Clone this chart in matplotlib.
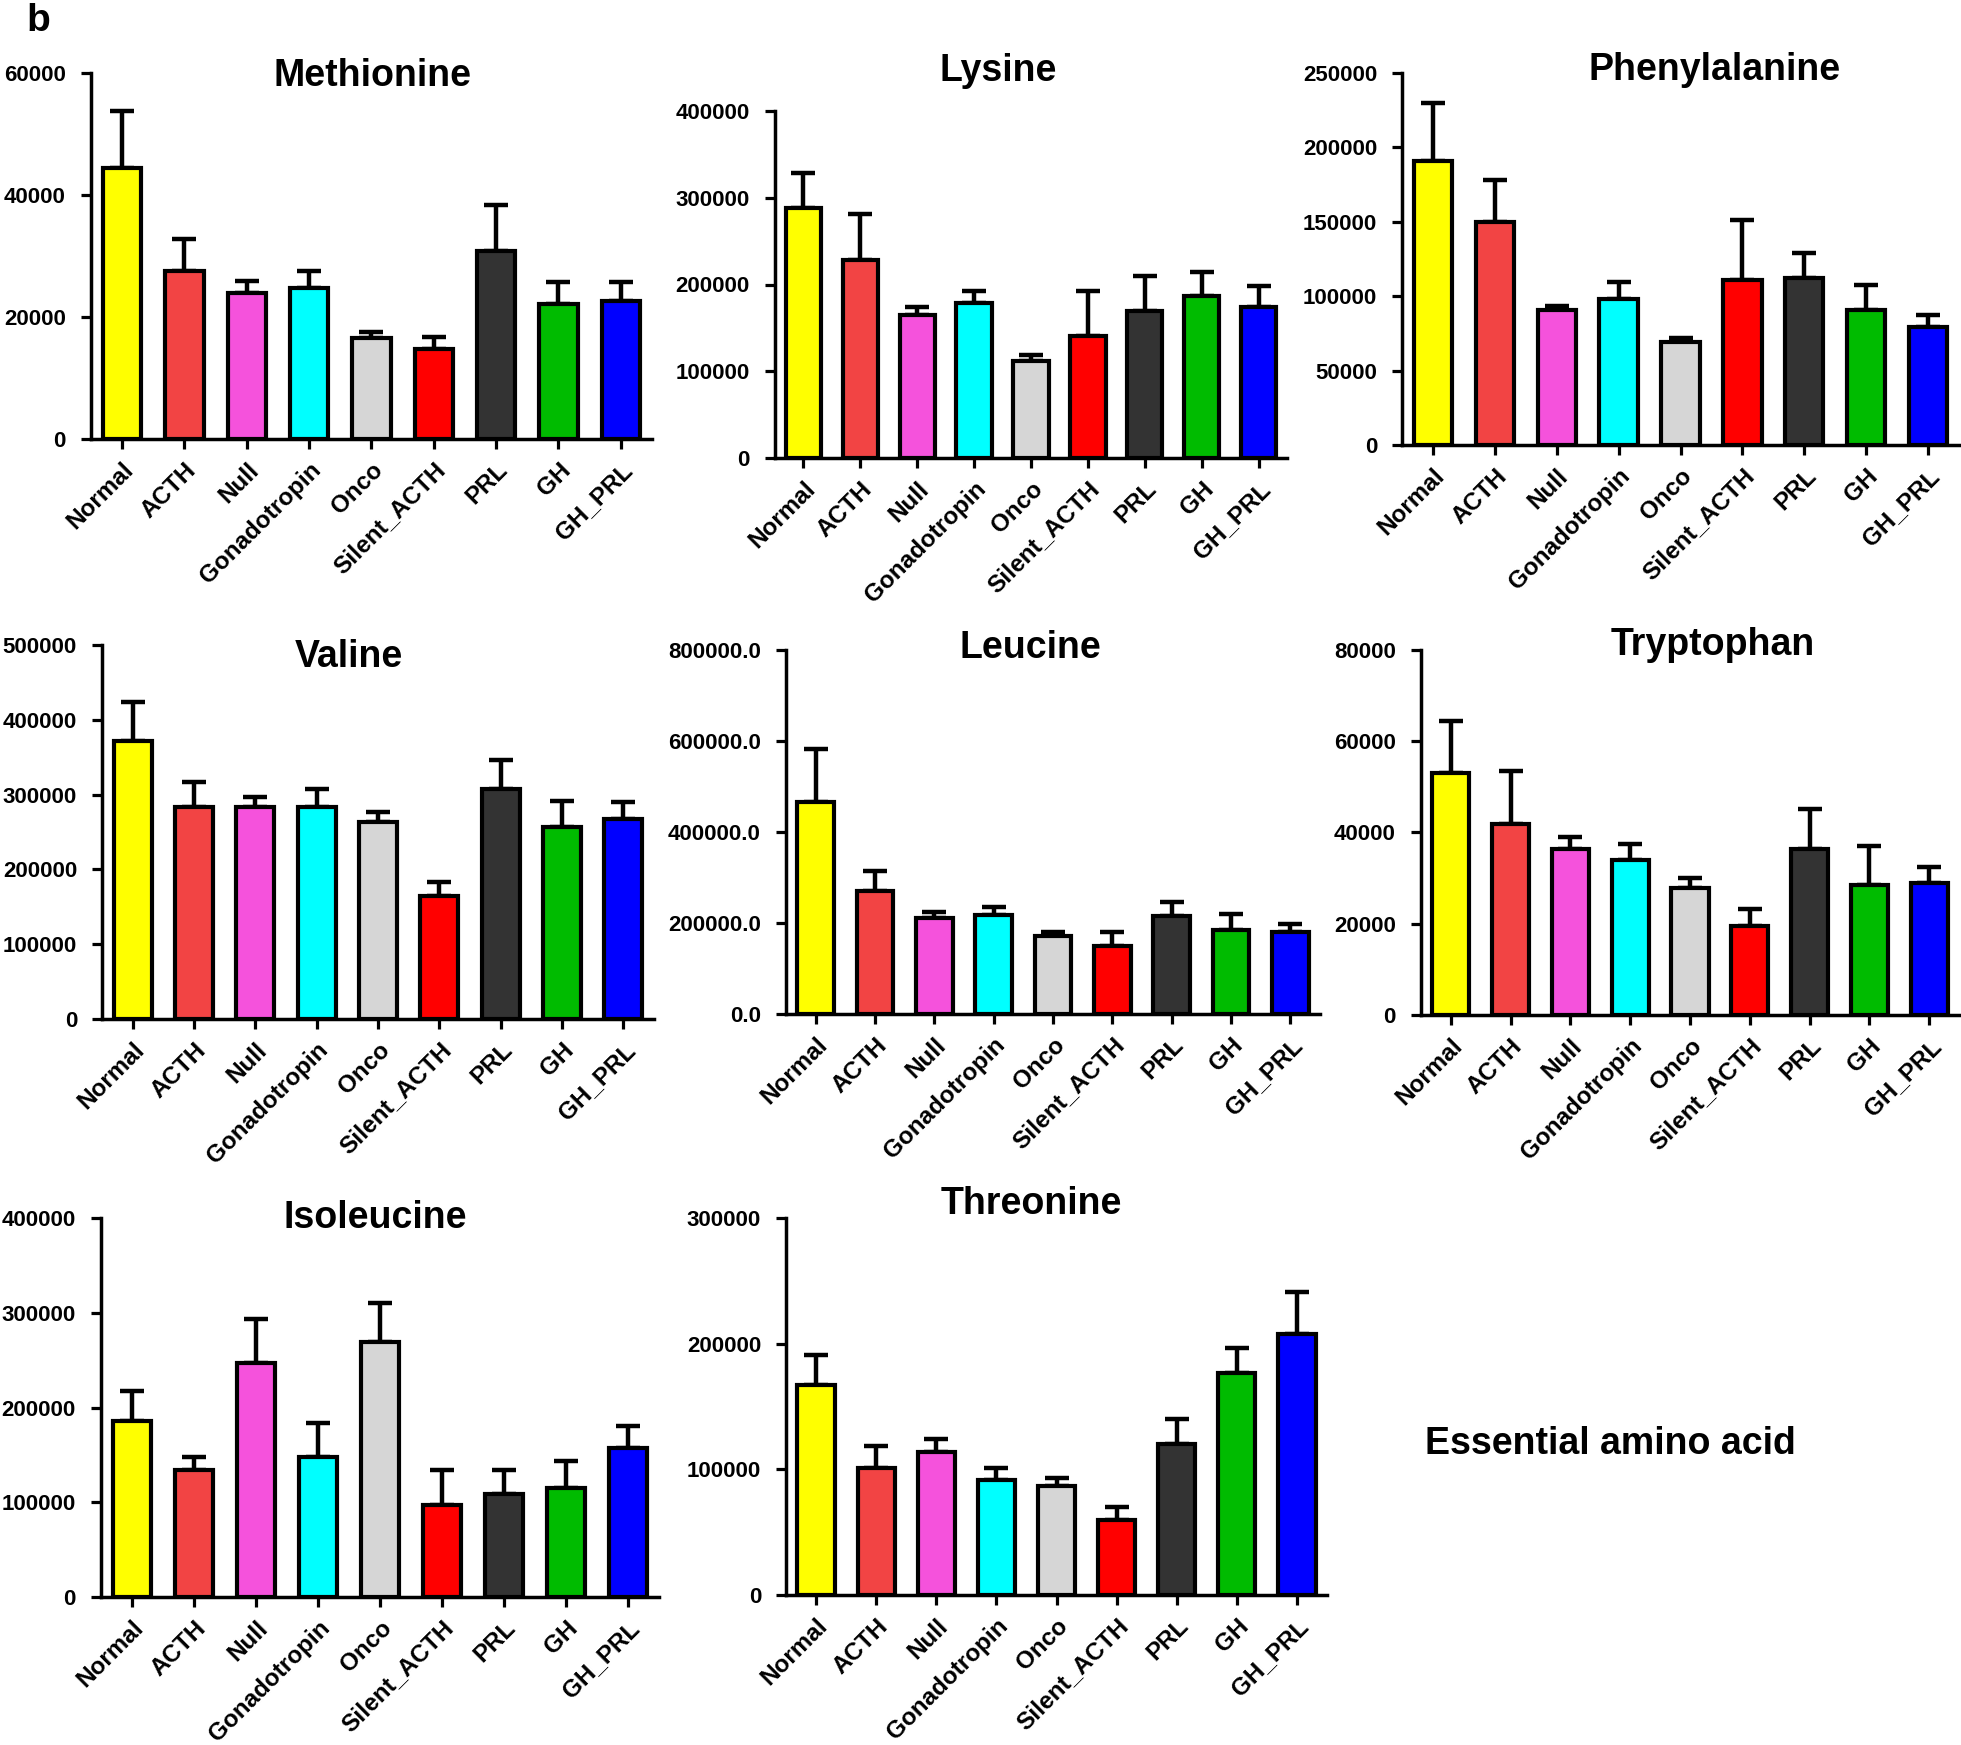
import matplotlib
matplotlib.use("Agg")
import matplotlib.pyplot as plt
import numpy as np

# ---------------- data ----------------
groups = ["Normal", "ACTH", "Null", "Gonadotropin", "Onco", "Silent_ACTH", "PRL", "GH", "GH_PRL"]
bar_colors = ["#FFFF00", "#F24444", "#F552DC", "#00FFFF", "#D6D6D6", "#FF0000", "#333333", "#00BB00", "#0000FF"]

methionine_mean = [44400, 27600, 23900, 24800, 16500, 14700, 30900, 22200, 22600]
methionine_err = [9400, 5200, 2000, 2800, 1100, 2100, 7400, 3600, 3200]

lysine_mean = [288000, 228000, 165000, 179000, 112000, 141000, 170000, 187000, 174000]
lysine_err = [41000, 53000, 9000, 14000, 7000, 51000, 40000, 27000, 24000]

phenylalanine_mean = [191000, 150000, 90600, 97900, 69000, 110800, 112500, 90600, 79200]
phenylalanine_err = [38600, 28000, 2500, 11400, 3000, 40600, 16200, 17200, 8000]

valine_mean = [371000, 284000, 284000, 284000, 263600, 164700, 308000, 256200, 267000]
valine_err = [53000, 33000, 13300, 23000, 13400, 17800, 38700, 35600, 22800]

leucine_mean = [466000, 270500, 211800, 218300, 171000, 150000, 214300, 185700, 180900]
leucine_err = [115700, 44000, 12200, 16300, 8200, 30900, 32500, 35100, 16200]

tryptophan_mean = [53000, 41900, 36300, 34000, 27900, 19500, 36400, 28400, 29000]
tryptophan_err = [11400, 11600, 2700, 3500, 2200, 3800, 8800, 8600, 3400]

isoleucine_mean = [186000, 133600, 247000, 147800, 268800, 97300, 108400, 114700, 157200]
isoleucine_err = [31500, 13800, 46600, 36200, 41000, 36300, 26000, 28700, 23300]

threonine_mean = [167200, 101300, 113500, 91800, 86400, 59700, 120000, 176400, 207900]
threonine_err = [23800, 17500, 10300, 8900, 6600, 10700, 20200, 20200, 33600]

panel_titles = ["Methionine", "Lysine", "Phenylalanine", "Valine", "Leucine",
                "Tryptophan", "Isoleucine", "Threonine"]
panel_ticks = [
    [0, 20000, 40000, 60000],
    [0, 100000, 200000, 300000, 400000],
    [0, 50000, 100000, 150000, 200000, 250000],
    [0, 100000, 200000, 300000, 400000, 500000],
    [0, 200000, 400000, 600000, 800000],
    [0, 20000, 40000, 60000, 80000],
    [0, 100000, 200000, 300000, 400000],
    [0, 100000, 200000, 300000],
]
panel_means = [methionine_mean, lysine_mean, phenylalanine_mean, valine_mean,
               leucine_mean, tryptophan_mean, isoleucine_mean, threonine_mean]
panel_errs = [methionine_err, lysine_err, phenylalanine_err, valine_err,
              leucine_err, tryptophan_err, isoleucine_err, threonine_err]
tick_formats = ["%d", "%d", "%d", "%d", "%.1f", "%d", "%d", "%d"]

# ---------------- layout (pixel geometry) ----------------
W, H = 1961, 1745
# left, right, top, bottom (pixels from top-left)
axes_px = [
    (91, 652, 73, 439),
    (775, 1287, 111, 458),
    (1402, 1959, 73, 445),
    (102, 654, 645, 1019),
    (786, 1320, 650, 1014),
    (1421, 1959, 650, 1015),
    (101, 659, 1218, 1597),
    (786, 1327, 1218, 1595),
]
title_px = [
    (372, 86), (998, 81), (1715, 80), (349, 667),
    (1030, 658), (1713, 655), (375, 1228), (1031, 1214),
]

plt.rcParams["font.family"] = ["Liberation Sans", "DejaVu Sans"]
plt.rcParams["font.weight"] = "bold"

fig = plt.figure(figsize=(W / 100, H / 100), dpi=100)
fig.patch.set_facecolor("white")

x = np.arange(len(groups))
for i in range(8):
    l, r, t, b = axes_px[i]
    ax = fig.add_axes([l / W, 1 - b / H, (r - l) / W, (b - t) / H])
    means = panel_means[i]
    errs = panel_errs[i]
    ax.bar(x, means, width=0.62, color=bar_colors, edgecolor="black",
           linewidth=3.0, zorder=3)
    ax.errorbar(x, means, yerr=[np.zeros(len(errs)), errs], fmt="none",
                ecolor="black", elinewidth=3.2, capsize=8.5, capthick=3.2, zorder=2)
    ticks = panel_ticks[i]
    ax.set_ylim(0, ticks[-1])
    ax.set_xlim(-0.5, 8.5)
    ax.set_yticks(ticks)
    ax.set_yticklabels([tick_formats[i] % v for v in ticks], fontsize=16,
                       fontweight="bold")
    ax.set_xticks(x)
    ax.set_xticklabels(groups, rotation=45, ha="right", rotation_mode="anchor",
                       fontsize=17.5, fontweight="bold")
    for s in ["top", "right"]:
        ax.spines[s].set_visible(False)
    for s in ["left", "bottom"]:
        ax.spines[s].set_linewidth(2.5)
    ax.tick_params(axis="y", direction="out", length=7, width=2.3, pad=11)
    ax.tick_params(axis="x", direction="out", length=7, width=2.3, pad=7)
    ax.patch.set_alpha(0)

    tx, ty = title_px[i]
    fig.text(tx / W, 1 - ty / H, panel_titles[i], ha="center", va="baseline",
             fontsize=27, fontweight="bold")

fig.text(1425 / W, 1 - 1454 / H, "Essential amino acid", ha="left",
         va="baseline", fontsize=27, fontweight="bold")
fig.text(26 / W, 1 - 31 / H, "b", ha="left", va="baseline",
         fontsize=28, fontweight="bold")

fig.savefig("out.png", dpi=100)
